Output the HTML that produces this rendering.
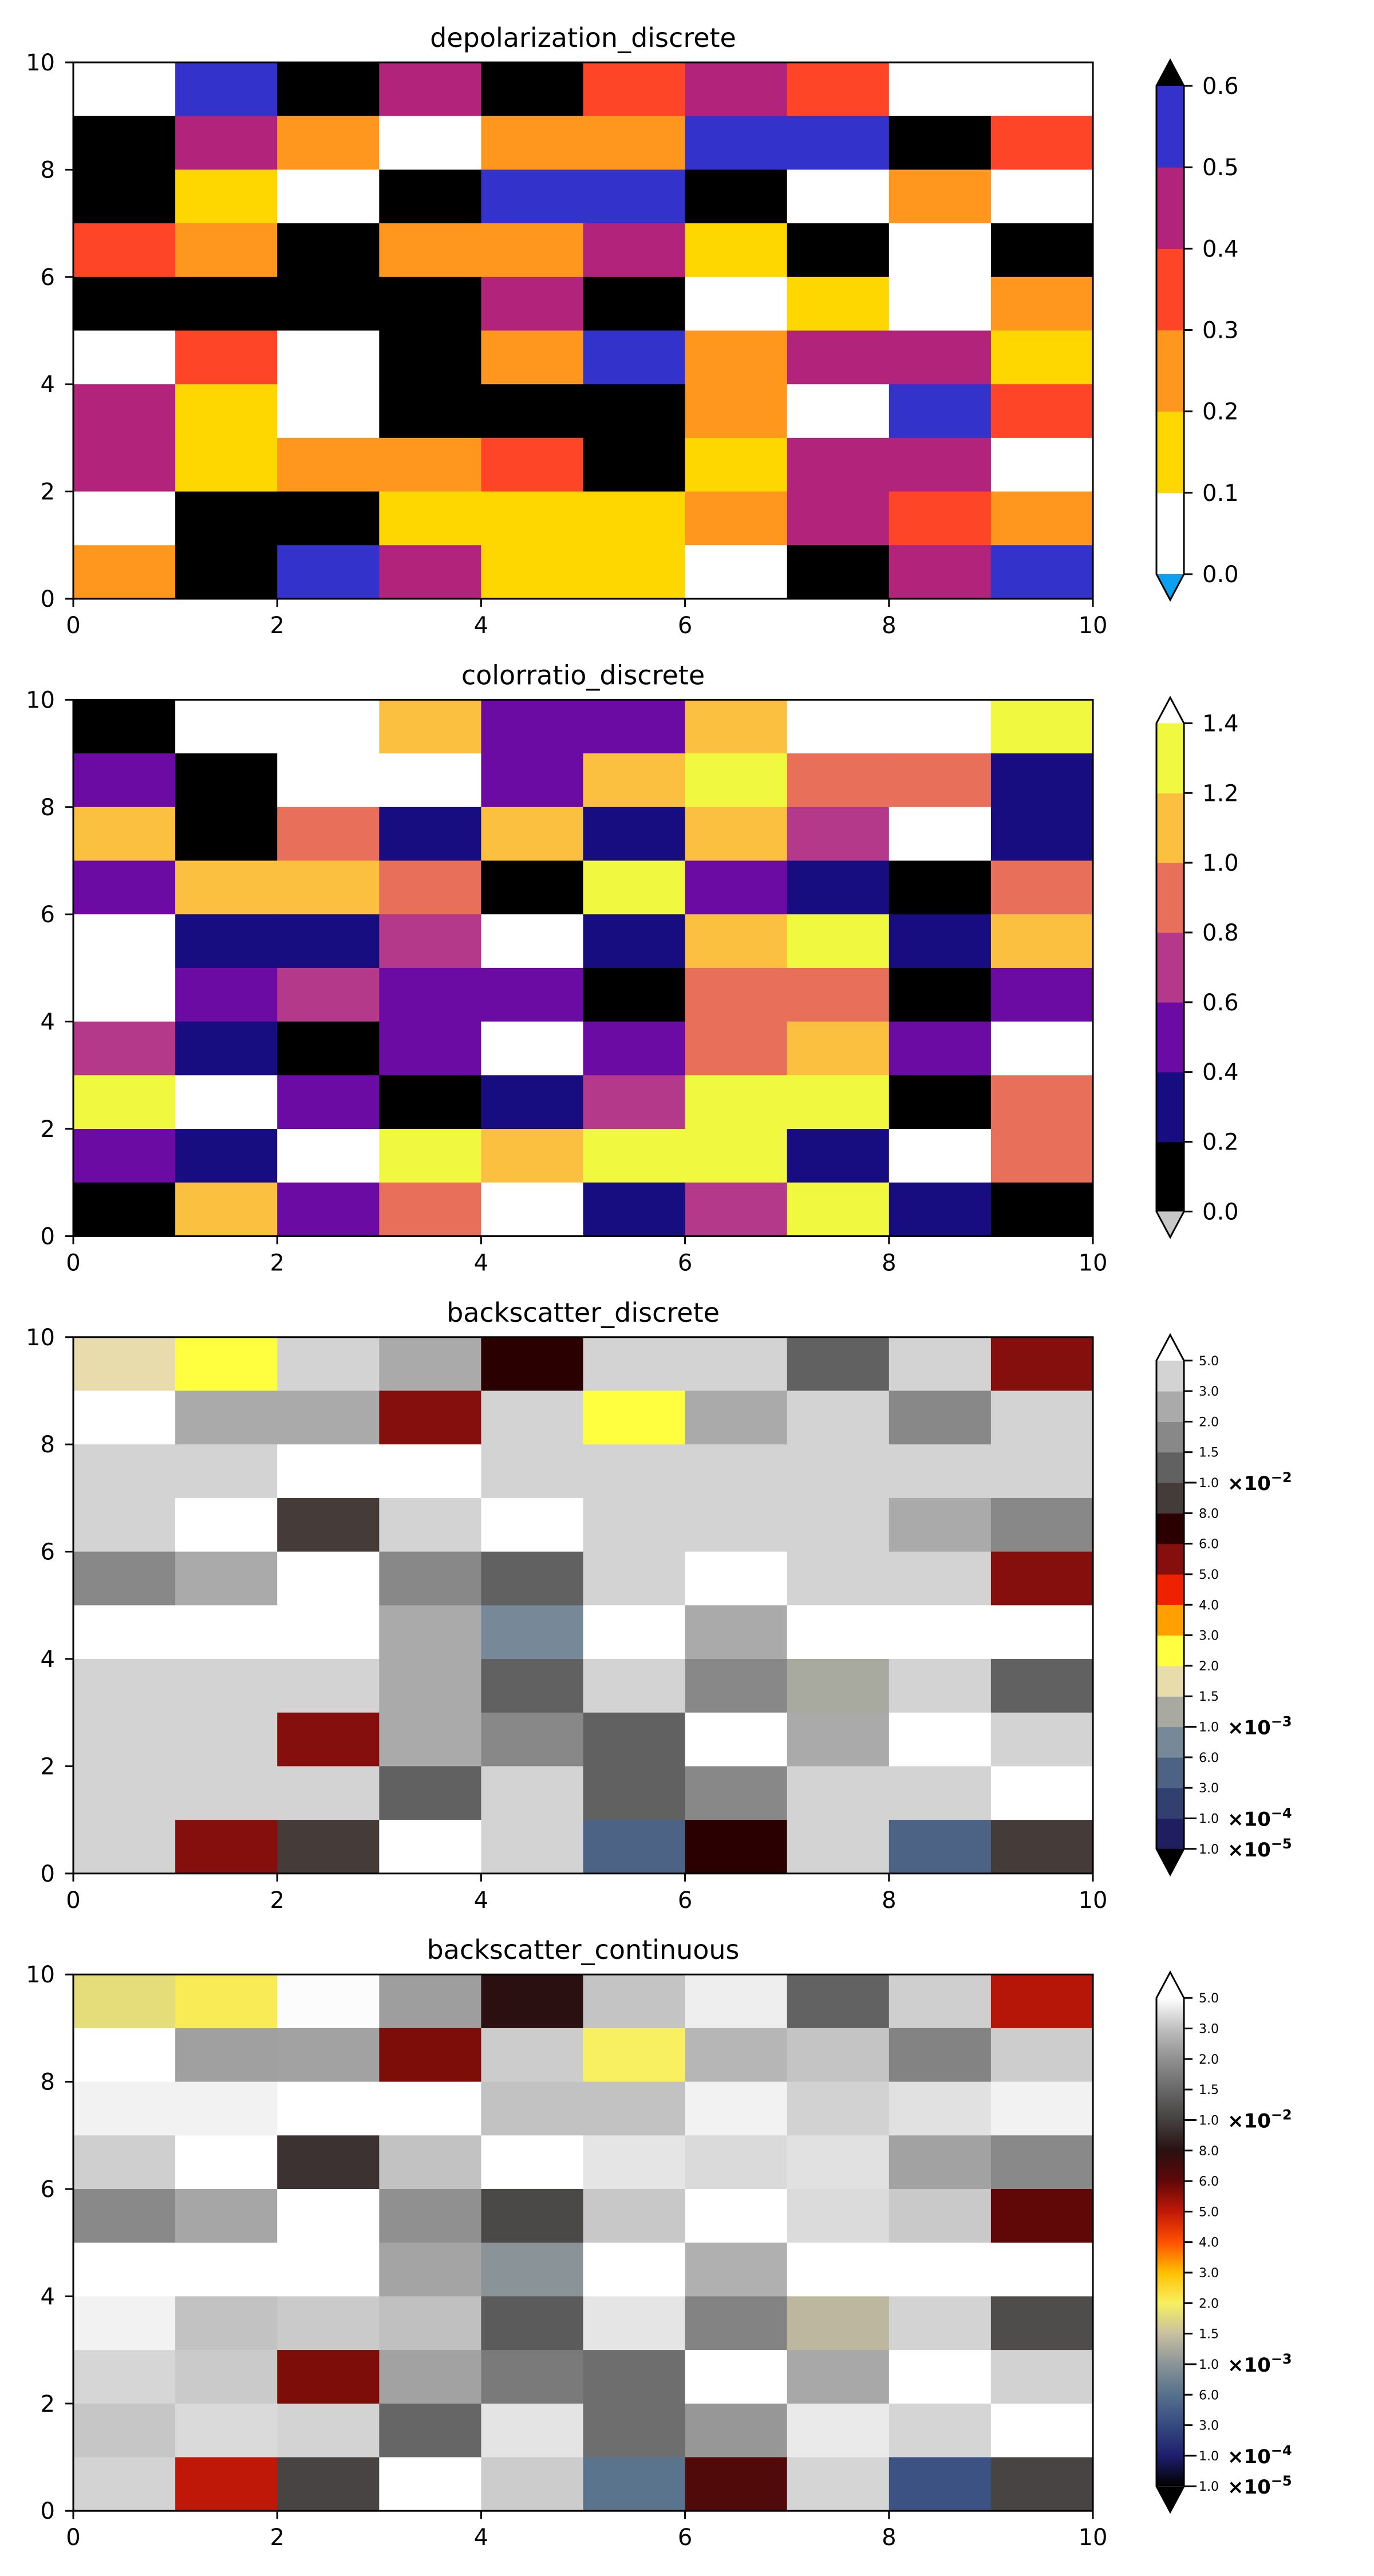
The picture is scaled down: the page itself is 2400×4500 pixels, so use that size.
<!DOCTYPE html>
<html><head><meta charset="utf-8"><title>Lidar colormaps</title>
<style>
html,body{margin:0;padding:0;background:#fff;}
svg{display:block;font-family:"DejaVu Sans","Liberation Sans",sans-serif;}
</style></head>
<body>
<svg id="fig" xmlns="http://www.w3.org/2000/svg" width="2400" height="4500" viewBox="0 0 2400 4500">
<rect x="0" y="0" width="2400" height="4500" fill="#ffffff"/>
</svg>
<script>
// ---------- data (rows listed from top row y=9..10 down to bottom row y=0..1) ----------
const xTicks = [0, 2, 4, 6, 8, 10];
const yTicks = [0, 2, 4, 6, 8, 10];

const depolLevels = [0.0, 0.1, 0.2, 0.3, 0.4, 0.5, 0.6];
const depolTickLabels = ["0.0","0.1","0.2","0.3","0.4","0.5","0.6"];
const depolValues = [
  [0.05,0.55,0.7,0.45,0.7,0.35,0.45,0.35,0.05,0.05],
  [0.7,0.45,0.25,0.05,0.25,0.25,0.55,0.55,0.7,0.35],
  [0.7,0.15,0.05,0.7,0.55,0.55,0.7,0.05,0.25,0.05],
  [0.35,0.25,0.7,0.25,0.25,0.45,0.15,0.7,0.05,0.7],
  [0.7,0.7,0.7,0.7,0.45,0.7,0.05,0.15,0.05,0.25],
  [0.05,0.35,0.05,0.7,0.25,0.55,0.25,0.45,0.45,0.15],
  [0.45,0.15,0.05,0.7,0.7,0.7,0.25,0.05,0.55,0.35],
  [0.45,0.15,0.25,0.25,0.35,0.7,0.15,0.45,0.45,0.05],
  [0.05,0.7,0.7,0.15,0.15,0.15,0.25,0.45,0.35,0.25],
  [0.25,0.7,0.55,0.45,0.15,0.15,0.05,0.7,0.45,0.55]
];

const crLevels = [0.0,0.2,0.4,0.6,0.8,1.0,1.2,1.4];
const crTickLabels = ["0.0","0.2","0.4","0.6","0.8","1.0","1.2","1.4"];
const crValues = [
  [0.1,1.5,1.5,1.1,0.5,0.5,1.1,1.5,1.5,1.3],
  [0.5,0.1,1.5,1.5,0.5,1.1,1.3,0.9,0.9,0.3],
  [1.1,0.1,0.9,0.3,1.1,0.3,1.1,0.7,1.5,0.3],
  [0.5,1.1,1.1,0.9,0.1,1.3,0.5,0.3,0.1,0.9],
  [1.5,0.3,0.3,0.7,1.5,0.3,1.1,1.3,0.3,1.1],
  [1.5,0.5,0.7,0.5,0.5,0.1,0.9,0.9,0.1,0.5],
  [0.7,0.3,0.1,0.5,1.5,0.5,0.9,1.1,0.5,1.5],
  [1.3,1.5,0.5,0.1,0.3,0.7,1.3,1.3,0.1,0.9],
  [0.5,0.3,1.5,1.3,1.1,1.3,1.3,0.3,1.5,0.9],
  [0.1,1.1,0.5,0.9,1.5,0.3,0.7,1.3,0.3,0.1]
];

const bsLevels = [1e-5,1e-4,3e-4,6e-4,1e-3,1.5e-3,2e-3,3e-3,4e-3,5e-3,6e-3,8e-3,1e-2,1.5e-2,2e-2,3e-2,5e-2];
const bsTickLabels = ["1.0","1.0","3.0","6.0","1.0","1.5","2.0","3.0","4.0","5.0","6.0","8.0","1.0","1.5","2.0","3.0","5.0"];
const bsTickExponents = ["-5","-4","","","-3","","","","","","","","-2","","","",""];
const bsDiscreteValues = [
  [0.0017,0.0025,0.04,0.025,0.007,0.04,0.04,0.012,0.04,0.0055],
  [0.06,0.025,0.025,0.0055,0.04,0.0025,0.025,0.04,0.017,0.04],
  [0.04,0.04,0.06,0.06,0.04,0.04,0.04,0.04,0.04,0.04],
  [0.04,0.06,0.009,0.04,0.06,0.04,0.04,0.04,0.025,0.017],
  [0.017,0.025,0.06,0.017,0.012,0.04,0.06,0.04,0.04,0.0055],
  [0.06,0.06,0.06,0.025,0.0008,0.06,0.025,0.06,0.06,0.06],
  [0.04,0.04,0.04,0.025,0.012,0.04,0.017,0.0012,0.04,0.012],
  [0.04,0.04,0.0055,0.025,0.017,0.012,0.06,0.025,0.06,0.04],
  [0.04,0.04,0.04,0.012,0.04,0.012,0.017,0.04,0.04,0.06],
  [0.04,0.0055,0.009,0.06,0.04,0.0004,0.007,0.04,0.0004,0.009]
];
const bsContinuousValues = [
  [0.0018,0.0021,0.049,0.023,0.008,0.0312,0.0446,0.0142,0.0348,0.0051],
  [0.06,0.0233,0.0237,0.0057,0.0338,0.002,0.0279,0.0312,0.0184,0.034],
  [0.046,0.046,0.06,0.06,0.0306,0.0306,0.046,0.0358,0.0404,0.046],
  [0.0348,0.06,0.0094,0.0306,0.06,0.0418,0.0382,0.0404,0.0237,0.0191],
  [0.0191,0.0246,0.06,0.02,0.011,0.0326,0.06,0.0386,0.0328,0.006],
  [0.06,0.06,0.06,0.0242,0.001,0.06,0.0267,0.06,0.06,0.06],
  [0.046,0.0306,0.0332,0.03,0.0134,0.0418,0.0184,0.0014,0.036,0.0115],
  [0.037,0.0332,0.0057,0.0237,0.0173,0.0158,0.06,0.025,0.06,0.0358],
  [0.032,0.0382,0.036,0.0147,0.0414,0.0158,0.0215,0.0434,0.0366,0.06],
  [0.036,0.005,0.0105,0.06,0.0338,0.00064,0.0066,0.0366,0.00036,0.0105]
];

// ---------- colormaps ----------
const depolColors = ["#ffffff","#ffd700","#ff961e","#ff4528","#b2237b","#3333cc"];
const crColors = ["#000000","#170c80","#6c0aa4","#b5398a","#e8705a","#fcc040","#f0f840"];
const bsColors = ["#1f1e5e","#32406f","#4d6385","#778899","#a8aaa0","#e8dcac","#ffff40","#ffa000","#ef2200","#850f0c","#2a0000","#453b39","#616161","#888888","#aaaaaa","#d3d3d3"];
const bsContStops = ["#000000","#1f1e6e","#344a80","#56708c","#8a9498","#c8c0a0","#f8f060","#ffc000","#ff5000","#c01808","#600808","#2a1010","#444040","#686868","#909090","#c0c0c0","#ffffff"];

const NS = "http://www.w3.org/2000/svg";
const svg = document.getElementById("fig");
function el(tag, attrs, parent) {
  const e = document.createElementNS(NS, tag);
  for (const k in attrs) e.setAttribute(k, attrs[k]);
  (parent || svg).appendChild(e);
  return e;
}
function discreteColor(v, levels, colors, under, over) {
  if (v < levels[0]) return under;
  if (v >= levels[levels.length - 1]) return over;
  for (let i = 0; i < levels.length - 1; i++) if (v < levels[i + 1]) return colors[i];
  return over;
}
function fracIndex(v, levels) {
  for (let i = 0; i < levels.length - 1; i++)
    if (v < levels[i + 1]) return i + (v - levels[i]) / (levels[i + 1] - levels[i]);
  return levels.length - 1;
}
function hex2rgb(h) { return [parseInt(h.substr(1,2),16),parseInt(h.substr(3,2),16),parseInt(h.substr(5,2),16)]; }
function contColor(v) {
  if (v < bsLevels[0]) return "#000000";
  if (v > bsLevels[bsLevels.length - 1]) return "#ffffff";
  const f = fracIndex(v, bsLevels);
  const i = Math.min(Math.floor(f), bsContStops.length - 2);
  const t = f - i;
  const a = hex2rgb(bsContStops[i]), b = hex2rgb(bsContStops[i + 1]);
  const c = a.map((x, k) => Math.round(x + (b[k] - x) * t));
  return "rgb(" + c.join(",") + ")";
}

// ---------- layout ----------
const AX_L = 128, AX_R = 1909, AX_H = 937, PANEL_STEP = 1113.4, FIRST_TOP = 109;
const CB_L = 2020, CB_R = 2068;

function drawPanel(idx, title, values, colorFn, cb) {
  const top = FIRST_TOP + idx * PANEL_STEP;
  const bottom = top + AX_H;
  const sx = v => AX_L + v / 10 * (AX_R - AX_L);
  const sy = v => bottom - v / 10 * AX_H;
  const g = el("g", {});
  
  

  const t = el("text", {x: (AX_L + AX_R) / 2, y: top - 27, "text-anchor": "middle", "font-size": 46, fill: "#000"}, g);
  t.textContent = title;
  
  

  const nRows = values.length;
  values.forEach((row, r) => {
    const yv = nRows - 1 - r;
    row.forEach((v, c) => {
      const rc = el("rect", {x: sx(c), y: sy(yv + 1), width: sx(c + 1) - sx(c) + 0.6, height: sy(yv) - sy(yv + 1) + 0.6, fill: colorFn(v)}, g);
      
      
    });
  });

  const frame = el("rect", {x: AX_L, y: top, width: AX_R - AX_L, height: AX_H, fill: "none", stroke: "#000", "stroke-width": 3}, g);
  
  

  xTicks.forEach(v => {
    el("line", {x1: sx(v), x2: sx(v), y1: bottom, y2: bottom + 14, stroke: "#000", "stroke-width": 3}, g);
    const tl = el("text", {x: sx(v), y: bottom + 60, "text-anchor": "middle", "font-size": 40}, g);
    tl.textContent = v;
    
    
  });
  yTicks.forEach(v => {
    el("line", {x1: AX_L - 14, x2: AX_L, y1: sy(v), y2: sy(v), stroke: "#000", "stroke-width": 3}, g);
    const tl = el("text", {x: AX_L - 32, y: sy(v) + 14, "text-anchor": "end", "font-size": 40}, g);
    tl.textContent = v;
    
    
  });

  // colorbar
  const cg = el("g", {}, g);
  
  
  const bTop = top + 41, bBot = bottom - 43, tipTop = top - 4, tipBot = bottom + 2;
  const n = cb.levels.length - 1;
  const ly = i => bBot - i / n * (bBot - bTop);
  const cx = (CB_L + CB_R) / 2;
  if (cb.gradient) {
    const defs = el("defs", {}, cg);
    const lg = el("linearGradient", {id: "grad" + idx, x1: 0, y1: 1, x2: 0, y2: 0}, defs);
    cb.gradient.forEach((c, i) => el("stop", {offset: i / (cb.gradient.length - 1), "stop-color": c}, lg));
    el("rect", {x: CB_L, y: bTop, width: CB_R - CB_L, height: bBot - bTop, fill: "url(#grad" + idx + ")"}, cg);
  } else {
    cb.colors.forEach((c, i) => {
      const rc = el("rect", {x: CB_L, y: ly(i + 1), width: CB_R - CB_L, height: ly(i) - ly(i + 1) + 0.6, fill: c}, cg);
      
      
    });
  }
  el("polygon", {points: `${CB_L},${bTop} ${cx},${tipTop} ${CB_R},${bTop}`, fill: cb.over}, cg);
  el("polygon", {points: `${CB_L},${bBot} ${cx},${tipBot} ${CB_R},${bBot}`, fill: cb.under}, cg);
  el("polygon", {points: `${CB_L},${bTop} ${cx},${tipTop} ${CB_R},${bTop} ${CB_R},${bBot} ${cx},${tipBot} ${CB_L},${bBot}`, fill: "none", stroke: "#000", "stroke-width": 3}, cg);

  cb.labels.forEach((lab, i) => {
    const y = ly(i);
    const major = cb.exps && cb.exps[i] !== "";
    el("line", {x1: CB_R, x2: CB_R + (major ? 22 : 15), y1: y, y2: y, stroke: "#000", "stroke-width": 3}, cg);
    const tl = el("text", {x: CB_R + (cb.exps ? 26 : 32), y: y + (cb.exps ? 8 : 14), "font-size": cb.exps ? 22 : 40}, cg);
    tl.textContent = lab;
    
    
    if (major) {
      const ex = el("text", {x: CB_R + 76, y: y + 13, "font-size": 34, "font-weight": "bold"}, cg);
      ex.textContent = "×10";
      
      
      const sup = el("tspan", {dy: -14, "font-size": 24}, ex);
      sup.textContent = "−" + cb.exps[i].replace("-", "");
    }
  });
}

drawPanel(0, "depolarization_discrete", depolValues,
  v => discreteColor(v, depolLevels, depolColors, "#0ba0f0", "#000000"),
  {levels: depolLevels, colors: depolColors, labels: depolTickLabels, under: "#0ba0f0", over: "#000000"});
drawPanel(1, "colorratio_discrete", crValues,
  v => discreteColor(v, crLevels, crColors, "#c8c8c8", "#ffffff"),
  {levels: crLevels, colors: crColors, labels: crTickLabels, under: "#c8c8c8", over: "#ffffff"});
drawPanel(2, "backscatter_discrete", bsDiscreteValues,
  v => discreteColor(v, bsLevels, bsColors, "#000000", "#ffffff"),
  {levels: bsLevels, colors: bsColors, labels: bsTickLabels, exps: bsTickExponents, under: "#000000", over: "#ffffff"});
drawPanel(3, "backscatter_continuous", bsContinuousValues,
  v => contColor(v),
  {levels: bsLevels, gradient: bsContStops, labels: bsTickLabels, exps: bsTickExponents, under: "#000000", over: "#ffffff"});
</script>
</body></html>
